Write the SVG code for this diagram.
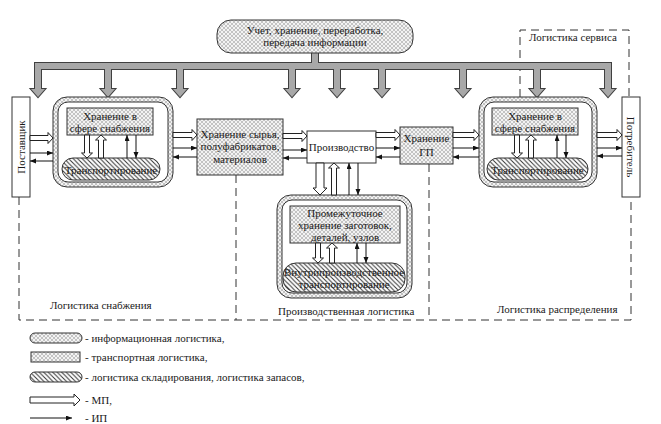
<svg xmlns="http://www.w3.org/2000/svg" xmlns:xlink="http://www.w3.org/1999/xlink" width="661" height="424" viewBox="0 0 661 424">
<defs>
<pattern id="cross" patternUnits="userSpaceOnUse" width="4" height="4">
<rect width="4" height="4" fill="#f3f3f3"/>
<path d="M0,0 L4,4 M4,0 L0,4" stroke="#a2a2a2" stroke-width="0.6"/>
</pattern>
<pattern id="hatch" patternUnits="userSpaceOnUse" width="4.5" height="4.5">
<rect width="4.5" height="4.5" fill="#ffffff"/>
<path d="M-1,-1 L5.5,5.5 M-1,3.5 L1,5.5 M3.5,-1 L5.5,1" stroke="#333" stroke-width="1"/>
</pattern>
<marker id="ah" markerUnits="userSpaceOnUse" markerWidth="7" markerHeight="6" refX="6" refY="2.5" orient="auto">
<path d="M0,0 L6,2.5 L0,5 Z" fill="#111"/>
</marker>
<g id="busShapes">
<rect x="312" y="52" width="6" height="13"/>
<rect x="35" y="63" width="576" height="6"/>
<path d="M35,66 V89 H31 L38,97 L45,89 H41 V66 Z"/>
<path d="M105,66 V89 H101 L108,97 L115,89 H111 V66 Z"/>
<path d="M177,66 V89 H173 L180,97 L187,89 H183 V66 Z"/>
<path d="M289,66 V89 H285 L292,97 L299,89 H295 V66 Z"/>
<path d="M334,66 V89 H330 L337,97 L344,89 H340 V66 Z"/>
<path d="M379,66 V89 H375 L382,97 L389,89 H385 V66 Z"/>
<path d="M460,66 V89 H456 L463,97 L470,89 H466 V66 Z"/>
<path d="M534,66 V89 H530 L537,97 L544,89 H540 V66 Z"/>
<path d="M605,66 V89 H601 L608,97 L615,89 H611 V66 Z"/>
</g>
</defs>
<style>
text{font-family:"Liberation Serif","DejaVu Serif",serif;font-size:11px;fill:#1a1a1a}
.c{text-anchor:middle}
.box{stroke:#333;stroke-width:1}
.xf{fill:url(#cross)}
.hf{fill:url(#hatch)}
.wf{fill:#fff}
.mp{fill:#fff;stroke:#222;stroke-width:1}
.ip{stroke:#111;stroke-width:1;fill:none;marker-end:url(#ah)}
.dash{fill:none;stroke:#333;stroke-width:1;stroke-dasharray:8,5}
</style>
<rect width="661" height="424" fill="#fff"/>

<g id="regions">
<path class="dash" d="M19,197 V320 H631 V197"/>
<path class="dash" d="M236,175 V320"/>
<path class="dash" d="M429,164 V320"/>
<path class="dash" d="M520,97 V30 H629 V97"/>
<text x="529" y="41">Логистика сервиса</text>
<text x="50" y="309">Логистика снабжения</text>
<text x="278" y="315">Производственная логистика</text>
<text x="497" y="313">Логистика распределения</text>
</g>

<g id="info-bus">
<use xlink:href="#busShapes" fill="#a8a8a8" stroke="#404040" stroke-width="2"/>
<use xlink:href="#busShapes" fill="#a8a8a8" stroke="none"/>
</g>

<g id="n-info">
<rect class="box xf" x="217" y="20" width="196" height="33" rx="14"/>
<text class="c" x="315" y="34">Учет, хранение, переработка,</text>
<text class="c" x="315" y="46">передача информации</text>
</g>

<g id="n-supplier">
<rect class="box wf" x="12" y="97" width="18" height="100"/>
<text class="c" transform="translate(25,147) rotate(-90)">Поставщик</text>
</g>

<g id="n-supply-complex">
<rect class="box xf" x="53" y="97" width="120" height="90" rx="14"/>
<rect class="box wf" x="58" y="102" width="110" height="80" rx="10"/>
<g id="n-supply-storage">
<rect class="box xf" x="67" y="108" width="86" height="27"/>
<text class="c" x="110" y="120">Хранение в</text>
<text class="c" x="110" y="132">сфере снабжения</text>
</g>
<g id="n-supply-transport">
<rect class="box hf" x="62" y="158" width="98" height="22" rx="11"/>
<text class="c" x="111" y="174">Транспортирование</text>
</g>
</g>

<g id="n-raw-storage">
<rect class="box xf" x="197" y="119" width="86" height="56"/>
<text class="c" x="240" y="138">Хранение сырья,</text>
<text class="c" x="240" y="150">полуфабрикатов,</text>
<text class="c" x="240" y="163">материалов</text>
</g>

<g id="n-production">
<rect class="box wf" x="307" y="131" width="69" height="32"/>
<text class="c" x="341.5" y="151">Производство</text>
</g>

<g id="n-gp">
<rect class="box xf" x="400" y="127" width="53" height="37"/>
<text class="c" x="426.5" y="142">Хранение</text>
<text class="c" x="426.5" y="156">ГП</text>
</g>

<g id="n-dist-complex">
<rect class="box xf" x="479" y="97" width="118" height="90" rx="14"/>
<rect class="box wf" x="484" y="102" width="108" height="80" rx="10"/>
<g id="n-dist-storage">
<rect class="box xf" x="492" y="108" width="86" height="27"/>
<text class="c" x="535" y="120">Хранение в</text>
<text class="c" x="535" y="132">сфере снабжения</text>
</g>
<g id="n-dist-transport">
<rect class="box hf" x="487" y="158" width="101" height="22" rx="11"/>
<text class="c" x="537.5" y="174">Транспортирование</text>
</g>
</g>

<g id="n-consumer">
<rect class="box wf" x="622" y="97" width="18" height="100"/>
<text class="c" transform="translate(627,147) rotate(90)">Потребитель</text>
</g>

<g id="n-prod-complex">
<rect class="box xf" x="277" y="195" width="135" height="103" rx="14"/>
<rect class="box wf" x="282" y="200" width="125" height="93" rx="10"/>
<g id="n-interim-storage">
<rect class="box xf" x="290" y="206" width="110" height="37"/>
<text class="c" x="345" y="217">Промежуточное</text>
<text class="c" x="345" y="229">хранение заготовок,</text>
<text class="c" x="345" y="241">деталей, узлов</text>
</g>
<g id="n-internal-transport">
<rect class="box hf" x="283" y="263" width="122" height="29" rx="13"/>
<text class="c" x="344" y="276">Внутрипроизводственное</text>
<text class="c" x="344" y="288">транспортирование</text>
</g>
</g>

<g id="connectors">
<path class="mp" d="M30,135.5 H48 V132.5 L53,138 L48,143.5 V140.5 H30 Z"/>
<path class="mp" d="M173,132.5 H192 V129.5 L197,135 L192,140.5 V137.5 H173 Z"/>
<path class="mp" d="M283,133.5 H302 V130.5 L307,136 L302,141.5 V138.5 H283 Z"/>
<path class="mp" d="M376,132.5 H395 V129.5 L400,135 L395,140.5 V137.5 H376 Z"/>
<path class="mp" d="M453,132.5 H474 V129.5 L479,135 L474,140.5 V137.5 H453 Z"/>
<path class="mp" d="M597,132.5 H617 V129.5 L622,135 L617,140.5 V137.5 H597 Z"/>
<path class="mp" d="M84.5,135 V153 H81.5 L87,158 L92.5,153 H89.5 V135 Z"/>
<path class="mp" d="M98.5,158 V140 H95.5 L101,135 L106.5,140 H103.5 V158 Z"/>
<path class="mp" d="M514.5,135 V153 H511.5 L517,158 L522.5,153 H519.5 V135 Z"/>
<path class="mp" d="M528.5,158 V140 H525.5 L531,135 L536.5,140 H533.5 V158 Z"/>
<path class="mp" d="M316,163 V188 H313 L320,195 L327,188 H324 V163 Z"/>
<path class="mp" d="M331.5,195 V168 H328.5 L334,163 L339.5,168 H336.5 V195 Z"/>
<path class="mp" d="M315.5,243 V258 H312.5 L318,263 L323.5,258 H320.5 V243 Z"/>
<path class="mp" d="M329.5,263 V248 H326.5 L332,243 L337.5,248 H334.5 V263 Z"/>
<line class="ip" x1="127" y1="158" x2="127" y2="135"/>
<line class="ip" x1="136" y1="135" x2="136" y2="158"/>
<line class="ip" x1="557" y1="158" x2="557" y2="135"/>
<line class="ip" x1="566" y1="135" x2="566" y2="158"/>
<line class="ip" x1="349" y1="195" x2="349" y2="163"/>
<line class="ip" x1="358" y1="163" x2="358" y2="195"/>
<line class="ip" x1="357" y1="263" x2="357" y2="243"/>
<line class="ip" x1="366" y1="243" x2="366" y2="263"/>
<line class="ip" x1="30" y1="153" x2="53" y2="153"/>
<line class="ip" x1="53" y1="161" x2="30" y2="161"/>
<line class="ip" x1="173" y1="148" x2="197" y2="148"/>
<line class="ip" x1="197" y1="157" x2="173" y2="157"/>
<line class="ip" x1="283" y1="150" x2="307" y2="150"/>
<line class="ip" x1="307" y1="158" x2="283" y2="158"/>
<line class="ip" x1="376" y1="148" x2="400" y2="148"/>
<line class="ip" x1="400" y1="157" x2="376" y2="157"/>
<line class="ip" x1="453" y1="148" x2="479" y2="148"/>
<line class="ip" x1="479" y1="157" x2="453" y2="157"/>
<line class="ip" x1="597" y1="148" x2="622" y2="148"/>
<line class="ip" x1="622" y1="156" x2="597" y2="156"/>
</g>

<g id="legend">
<rect class="box xf" x="30" y="333" width="52" height="10" rx="5"/>
<text x="85" y="342">- информационная логистика,</text>
<rect class="box xf" x="31" y="352" width="49" height="10"/>
<text x="85" y="361">- транспортная логистика,</text>
<rect class="box hf" x="30" y="372" width="52" height="10" rx="5"/>
<text x="85" y="381">- логистика складирования, логистика запасов,</text>
<path class="mp" d="M30,397 H74 V394 L80,400 L74,406 V403 H30 Z"/>
<text x="85" y="404">- МП,</text>
<line class="ip" x1="30" y1="418" x2="72" y2="418"/>
<text x="85" y="422">- ИП</text>
</g>
</svg>
